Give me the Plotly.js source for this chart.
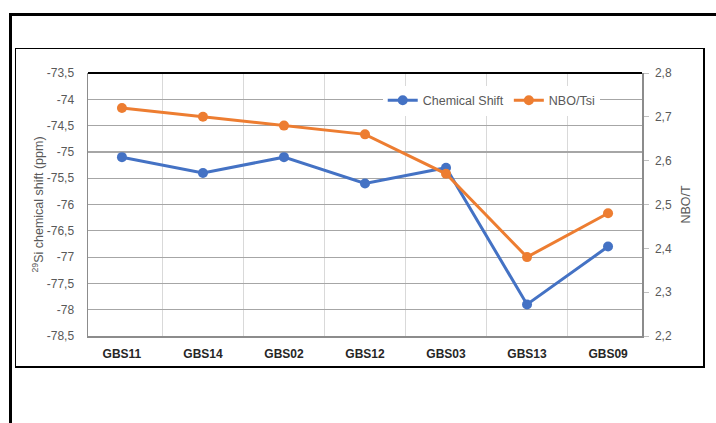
<!DOCTYPE html>
<html>
<head>
<meta charset="utf-8">
<script src="https://cdn.plot.ly/plotly-3.0.1.min.js"></script>
<style>
  html, body { margin: 0; padding: 0; background: #fff; width: 716px; height: 423px; overflow: hidden; }
  #outer { position: absolute; left: 9px; top: 13px; width: 800px; height: 500px; border: 3px solid #000; box-sizing: border-box; }
  #inner { position: absolute; left: 15px; top: 48px; width: 690px; height: 320px; border-left: 1px solid #000; border-top: 1px solid #000; border-right: 2px solid #000; border-bottom: 2px solid #000; box-sizing: border-box; }
  #chart { position: absolute; left: 0; top: 0; width: 716px; height: 423px; }
</style>
</head>
<body>
<div id="outer"></div>
<div id="inner"></div>
<div id="chart"></div>
<script>
const samples = ["GBS11", "GBS14", "GBS02", "GBS12", "GBS03", "GBS13", "GBS09"];
const chemicalShift = [-75.1, -75.4, -75.1, -75.6, -75.3, -77.9, -76.8];
const nboT = [2.72, 2.70, 2.68, 2.66, 2.57, 2.38, 2.48];
const leftTickVals = [-73.5, -74, -74.5, -75, -75.5, -76, -76.5, -77, -77.5, -78, -78.5];
const leftTickText = ["-73,5", "-74", "-74,5", "-75", "-75,5", "-76", "-76,5", "-77", "-77,5", "-78", "-78,5"];
const rightTickVals = [2.2, 2.3, 2.4, 2.5, 2.6, 2.7, 2.8];
const rightTickText = ["2,2", "2,3", "2,4", "2,5", "2,6", "2,7", "2,8"];

const blue = "#4472C4";
const orange = "#ED7D31";

const traces = [
  {
    x: samples, y: chemicalShift, name: "Chemical Shift", type: "scatter", mode: "lines+markers",
    line: { color: blue, width: 3 }, marker: { color: blue, size: 10 }, yaxis: "y"
  },
  {
    x: samples, y: nboT, name: "NBO/Tsi", type: "scatter", mode: "lines+markers",
    line: { color: orange, width: 3 }, marker: { color: orange, size: 10 }, yaxis: "y2"
  }
];

const FAM = "Liberation Sans, Arial, sans-serif";
const tickFont = { family: FAM, size: 12, color: "#595959" };

const layout = {
  width: 716, height: 423,
  margin: { l: 88, r: 74, t: 73, b: 87, pad: 0 },
  paper_bgcolor: "rgba(0,0,0,0)",
  plot_bgcolor: "rgba(0,0,0,0)",
  font: { family: FAM, size: 12, color: "#595959" },
  showlegend: true,
  legend: {
    orientation: "h", x: 0.532, y: 0.895, xanchor: "left", yanchor: "middle",
    bgcolor: "#ffffff", font: { family: FAM, size: 12.5, color: "#595959" },
    itemwidth: 30, tracegroupgap: 0
  },
  xaxis: {
    type: "category", tickson: "boundaries", showgrid: true, gridcolor: "#D9D9D9", gridwidth: 1,
    showline: true, linecolor: "#8C8C8C", linewidth: 1.5, ticks: "", zeroline: false,
    tickfont: { family: FAM, size: 12, color: "#262626", weight: "bold" },
    ticklabelstandoff: 6
  },
  yaxis: {
    range: [-78.5, -73.5], tickvals: leftTickVals, ticktext: leftTickText,
    showgrid: true, gridcolor: "#A6A6A6", gridwidth: 1.2, zeroline: false,
    showline: true, linecolor: "#8C8C8C", linewidth: 1.5, ticks: "",
    tickfont: tickFont, ticklabelstandoff: 10,
    title: { text: "<sup>29</sup>Si chemical shift (ppm)", font: { family: FAM, size: 12.5, color: "#595959" }, standoff: 0 }
  },
  yaxis2: {
    overlaying: "y", side: "right", range: [2.2, 2.8], tickvals: rightTickVals, ticktext: rightTickText,
    showgrid: false, zeroline: false, showline: true, linecolor: "#8C8C8C", linewidth: 1.5,
    ticks: "outside", ticklen: 5, tickcolor: "#BFBFBF", tickwidth: 1,
    tickfont: tickFont, ticklabelstandoff: 4,
    title: { text: "NBO/T", font: { family: FAM, size: 12.5, color: "#595959" }, standoff: 10 }
  },
  shapes: [
    { type: "line", xref: "paper", yref: "paper", x0: 0, x1: 1, y0: 1, y1: 1, line: { color: "#000000", width: 2 } }
  ]
};

Plotly.newPlot("chart", traces, layout, { displayModeBar: false, staticPlot: true });
</script>
</body>
</html>
